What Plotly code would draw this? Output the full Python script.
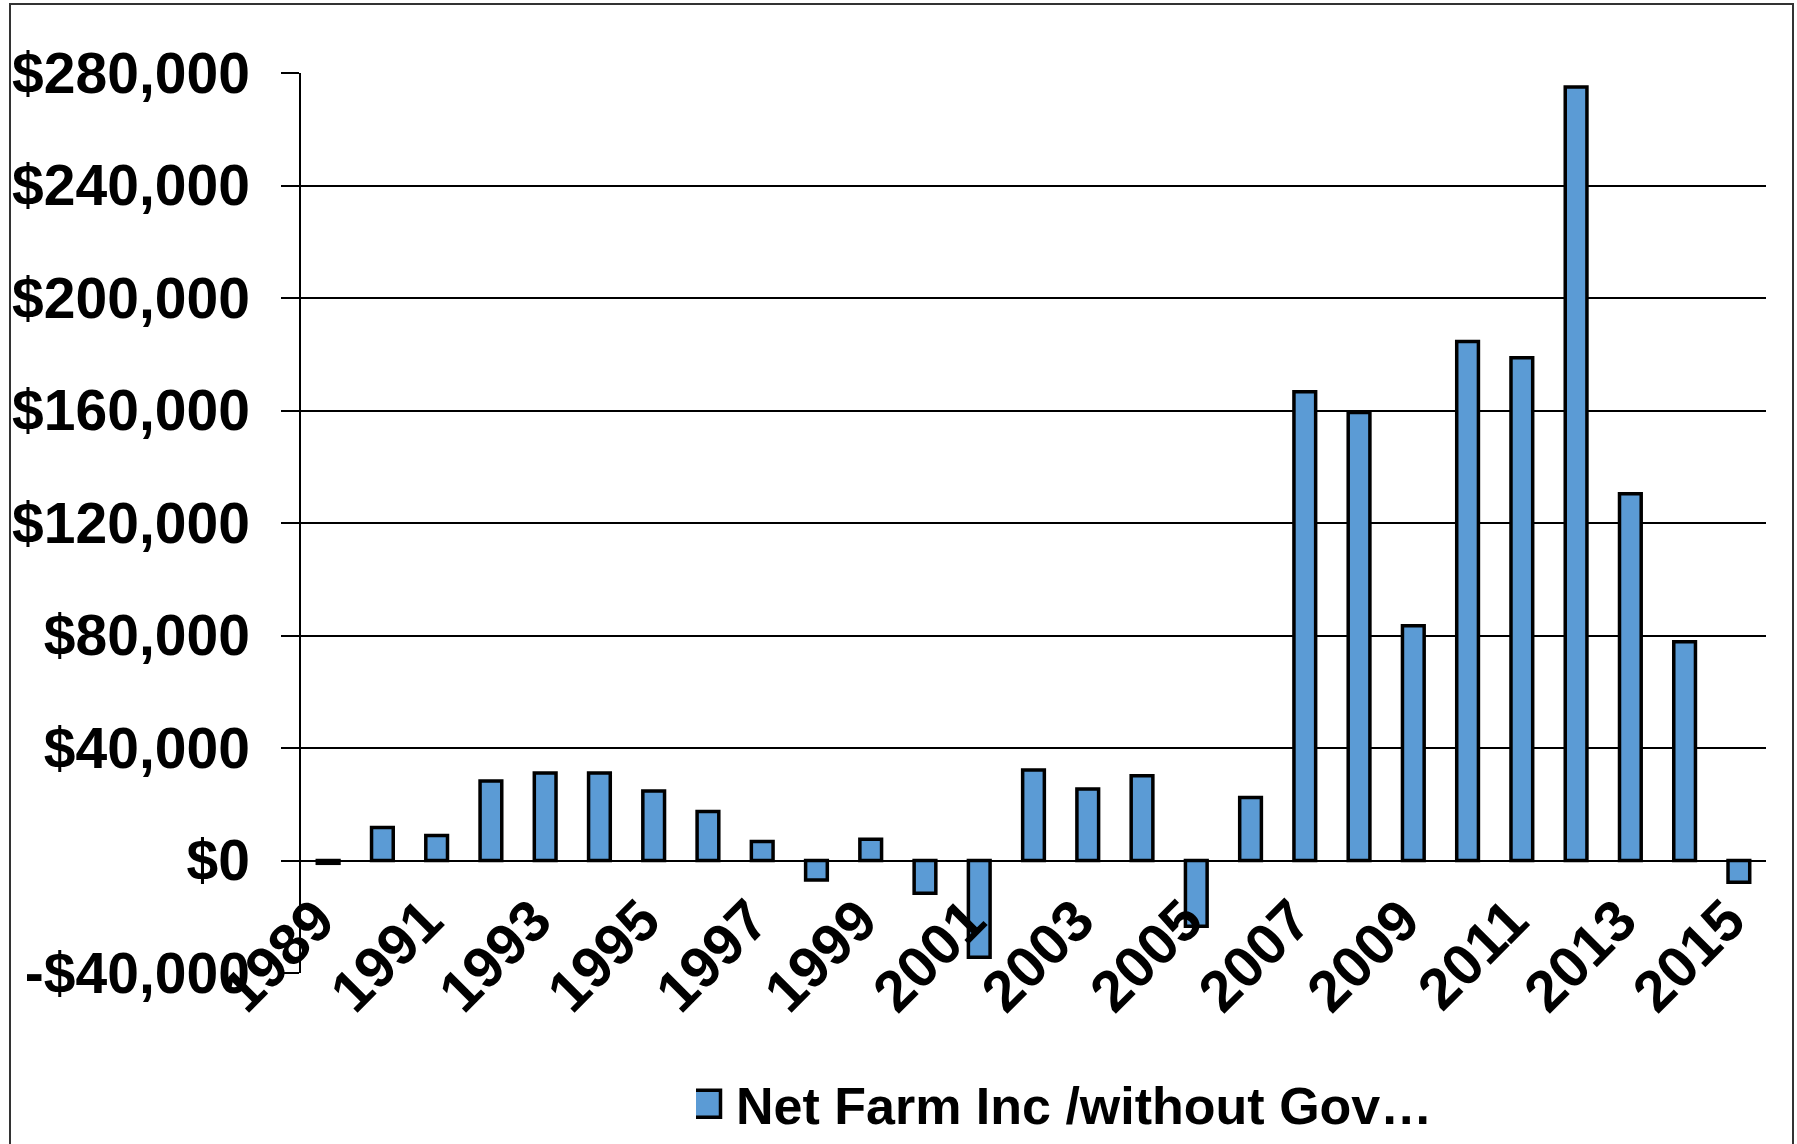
import plotly.graph_objects as go

years = [str(y) for y in range(1989, 2016)]
net_farm_income = [
    -1000, 11750, 8900, 28300, 31100, 31100, 24700, 17400, 6800, -6900,
    7600, -11600, -34400, 32200, 25400, 30100, -23400, 22400, 166700, 159300,
    83500, 184500, 178800, 275000, 130400, 77800, -7700,
]
series_name = "Net Farm Inc /without Gov…"
x_tick_labels = [str(y) for y in range(1989, 2016, 2)]
y_tick_vals = [-40000, 0, 40000, 80000, 120000, 160000, 200000, 240000, 280000]
y_tick_text = ["-$40,000", "$0", "$40,000", "$80,000", "$120,000", "$160,000",
               "$200,000", "$240,000", "$280,000"]

W, H = 1797, 1144
# desired plot area in page pixels (body margin removed by post_script)
PX0, PX1, PY0, PY1 = 301, 1766, 73, 973
L, T = PX0, PY0
R, B = W - PX1, H - PY1
pw, ph = PX1 - PX0, PY1 - PY0

FAMILY = "Liberation Sans, Arial, sans-serif"
TICKFONT = dict(family=FAMILY, size=57, color="black", weight="bold")
XTICKFONT = dict(family=FAMILY, size=58, color="black", weight="bold")
LEGFONT = dict(family=FAMILY, size=52, color="black", weight="bold")

fig = go.Figure()
fig.add_trace(go.Bar(
    x=years, y=net_farm_income, name=series_name,
    marker=dict(color="#5B9BD5", line=dict(color="black", width=3.5)),
    showlegend=True,
))

ymin, ymax = y_tick_vals[0], y_tick_vals[-1]
zero_pos = (0 - ymin) / (ymax - ymin)

def px_to_paper_x(px):
    return (px - PX0) / pw

def px_to_paper_y(py):
    return (PY1 - py) / ph

fig.update_layout(
    width=W, height=H,
    margin=dict(l=L, r=R, t=T, b=B, autoexpand=False),
    paper_bgcolor="white", plot_bgcolor="white",
    font=TICKFONT,
    bargap=0.6,
    showlegend=True,
    legend=dict(orientation="h", x=px_to_paper_x(696), xanchor="left",
                y=px_to_paper_y(1104), yanchor="middle",
                font=LEGFONT, bgcolor="rgba(0,0,0,0)"),
    xaxis=dict(type="category", categoryorder="array", categoryarray=years,
               tickmode="array", tickvals=x_tick_labels, ticktext=x_tick_labels,
               tickangle=-45, showgrid=False, showline=False, ticks="",
               anchor="free", position=zero_pos, tickfont=XTICKFONT,
               ticklabelstandoff=13, ticklabelshift=-11, automargin=False),
    yaxis=dict(range=[ymin, ymax], tickmode="array", tickvals=y_tick_vals, ticktext=y_tick_text,
               showgrid=True, gridcolor="black", gridwidth=1.5,
               showline=True, linecolor="black", linewidth=1.5,
               ticks="outside", ticklen=18, tickwidth=1.5, tickcolor="black",
               zeroline=False, tickfont=TICKFONT, ticklabelstandoff=20, automargin=False),
    shapes=[dict(type="rect", xref="paper", yref="paper",
                 x0=px_to_paper_x(10), x1=px_to_paper_x(1793),
                 y0=px_to_paper_y(1170), y1=px_to_paper_y(4),
                 line=dict(color="#333333", width=2), fillcolor="rgba(0,0,0,0)",
                 layer="below")],
)

post_js = """
(function(){
  document.documentElement.style.margin = '0';
  document.body.style.margin = '0';
  document.body.style.overflow = 'hidden';
  var gd = document.getElementsByClassName('plotly-graph-div')[0];
  function fix(){
    var ps = gd.querySelectorAll('.legend .legendpoints path');
    ps.forEach(function(p){
      var orig = p.getAttribute('data-orig-t');
      if (orig === null) {
        orig = p.getAttribute('transform') || '';
        p.setAttribute('data-orig-t', orig);
      }
      p.setAttribute('d', 'M13.5,13.5H-13.5V-13.5H13.5Z');
      p.setAttribute('transform', orig + ' translate(-9,0)');
      p.style.strokeWidth = '3.5px';
      p.style.stroke = 'black';
      p.style.fill = '#5B9BD5';
    });
  }
  fix();
  if (gd.on) { gd.on('plotly_afterplot', fix); }
})();
"""

fig.write_html("out.html", post_script=post_js, config={"displayModeBar": False})
